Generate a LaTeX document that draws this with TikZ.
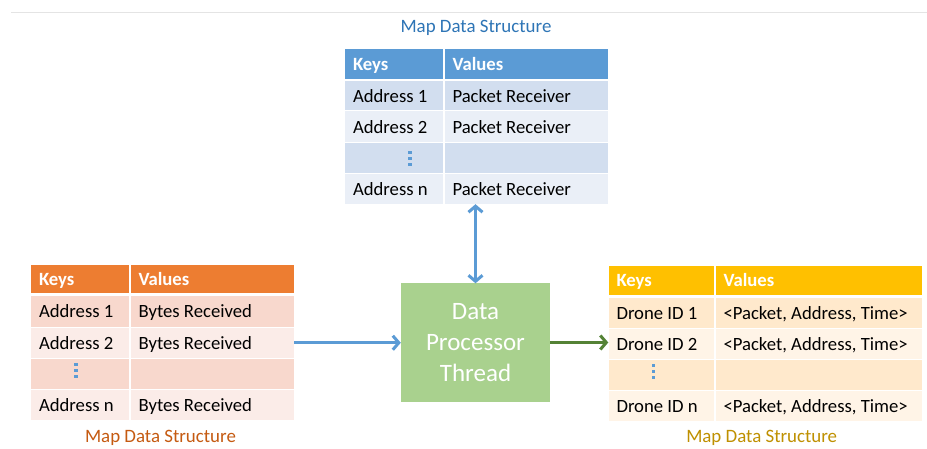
\documentclass[tikz,border=0pt]{standalone}
\usepackage{fontspec}
\setmainfont{Carlito}
\usetikzlibrary{arrows.meta,fit}
\definecolor{bluehead}{HTML}{5B9BD5}
\definecolor{blueA}{HTML}{D2DEEF}
\definecolor{blueB}{HTML}{EAEFF7}
\definecolor{orahead}{HTML}{ED7D31}
\definecolor{oraA}{HTML}{F8D8CD}
\definecolor{oraB}{HTML}{FBECE8}
\definecolor{goldhead}{HTML}{FFC000}
\definecolor{goldA}{HTML}{FFE9CC}
\definecolor{goldB}{HTML}{FFF4E7}
\definecolor{bluetitle}{HTML}{2E75B6}
\definecolor{oratitle}{HTML}{C55A11}
\definecolor{goldtitle}{HTML}{BF9000}
\definecolor{boxgreen}{HTML}{A9D18E}
\definecolor{arrgreen}{HTML}{548235}
\definecolor{rulegray}{HTML}{E4E4E4}
\tikzset{
  celltext/.style={anchor=west, inner sep=0pt, font=\fontsize{18.7}{22}\selectfont, text height=11.8pt, text depth=0pt, text=black, yshift=-0.6pt},
  hdrtext/.style={font=\fontsize{18.7}{22}\selectfont\bfseries, text=white},
  titletext/.style={inner sep=0pt, font=\fontsize{18.9}{22}\selectfont, text height=11.9pt, text depth=0pt},
  arr/.style={line width=3pt, -{Straight Barb[length=6pt,width=14pt]}},
  darr/.style={line width=3pt, {Straight Barb[length=6pt,width=14pt]}-{Straight Barb[length=6pt,width=14pt]}},
  dotmark/.style={fill=bluehead}
}
\newcommand\tcell[8]{%
  \node[fit={(#2,#3) (#4,#5)}, inner sep=0pt, fill=#6] (#1) {};
  \node[celltext,#8] (#1t) at ([xshift=8pt]#1.west) {#7};}
\newcommand\vdotsmark[4]{% x, y1, y2, y3
  \fill[dotmark] (#1-1.6,#2-1.6) rectangle (#1+1.6,#2+1.6);
  \fill[dotmark] (#1-1.6,#3-1.6) rectangle (#1+1.6,#3+1.6);
  \fill[dotmark] (#1-1.6,#4-1.6) rectangle (#1+1.6,#4+1.6);}
\begin{document}
\begin{tikzpicture}[x=1pt,y=-1pt]
\useasboundingbox (0,0) rectangle (927,449);
\fill[white] (0,0) rectangle (927,449);
\draw[rulegray, line width=1pt] (11,12.5) -- (927,12.5);

% top table
\node[titletext, text=bluetitle] (ttitle) at (476,27) {Map Data Structure};
\tcell{tkh}{345}{49}{443}{79}{bluehead}{Keys}{hdrtext}
\tcell{tvh}{444.5}{49}{608}{79}{bluehead}{Values}{hdrtext}
\tcell{tk1}{345}{81}{443}{110.5}{blueA}{Address 1}{}
\tcell{tv1}{444.5}{81}{608}{110.5}{blueA}{Packet Receiver}{}
\tcell{tk2}{345}{111.5}{443}{142}{blueB}{Address 2}{}
\tcell{tv2}{444.5}{111.5}{608}{142}{blueB}{Packet Receiver}{}
\tcell{tk3}{345}{143}{443}{173}{blueA}{}{}
\tcell{tv3}{444.5}{143}{608}{173}{blueA}{}{}
\tcell{tk4}{345}{174}{443}{204}{blueB}{Address n}{}
\tcell{tv4}{444.5}{174}{608}{204}{blueB}{Packet Receiver}{}
\vdotsmark{410}{152.3}{158.3}{164.3}

% left table
\tcell{lkh}{31}{265}{129}{293.5}{orahead}{Keys}{hdrtext}
\tcell{lvh}{130.5}{265}{294}{293.5}{orahead}{Values}{hdrtext}
\tcell{lk1}{31}{296.5}{129}{326.5}{oraA}{Address 1}{}
\tcell{lv1}{130.5}{296.5}{294}{326.5}{oraA}{Bytes Received}{}
\tcell{lk2}{31}{327.5}{129}{358}{oraB}{Address 2}{}
\tcell{lv2}{130.5}{327.5}{294}{358}{oraB}{Bytes Received}{}
\tcell{lk3}{31}{359}{129}{389}{oraA}{}{}
\tcell{lv3}{130.5}{359}{294}{389}{oraA}{}{}
\tcell{lk4}{31}{390}{129}{420}{oraB}{Address n}{}
\tcell{lv4}{130.5}{390}{294}{420}{oraB}{Bytes Received}{}
\vdotsmark{76}{364.3}{370.3}{376.3}
\node[titletext, text=oratitle] (ltitle) at (160.5,436.7) {Map Data Structure};

% right table
\tcell{rkh}{608.5}{266}{714}{295}{goldhead}{Keys}{hdrtext}
\tcell{rvh}{715.5}{266}{922}{295}{goldhead}{Values}{hdrtext}
\tcell{rk1}{608.5}{298}{714}{328}{goldA}{Drone ID 1}{}
\tcell{rv1}{715.5}{298}{922}{328}{goldA}{<Packet, Address, Time>}{}
\tcell{rk2}{608.5}{329}{714}{358.5}{goldB}{Drone ID 2}{}
\tcell{rv2}{715.5}{329}{922}{358.5}{goldB}{<Packet, Address, Time>}{}
\tcell{rk3}{608.5}{359.5}{714}{389.5}{goldA}{}{}
\tcell{rv3}{715.5}{359.5}{922}{389.5}{goldA}{}{}
\tcell{rk4}{608.5}{390.5}{714}{421}{goldB}{Drone ID n}{}
\tcell{rv4}{715.5}{390.5}{922}{421}{goldB}{<Packet, Address, Time>}{}
\vdotsmark{653.5}{365.5}{371.5}{377.5}
\node[titletext, text=goldtitle] (rtitle) at (761.7,436.5) {Map Data Structure};

% processor box
\node[fit={(401,283.5) (550,401.5)}, inner sep=0pt, fill=boxgreen] (dp) {};
\node[text=white, align=center, inner sep=0pt, font=\fontsize{25}{30.8}\selectfont] (dpt) at (dp.center) {Data\\Processor\\Thread};

% connectors
\draw[darr, bluehead] (tv4.south -| dp.north) -- (dp.north);
\draw[arr, bluehead] (lv2.east) -- (lv2.east -| dp.west);
\draw[arr, arrgreen] (dp.east) -- (dp.east -| rk2.west);
\end{tikzpicture}
\end{document}
